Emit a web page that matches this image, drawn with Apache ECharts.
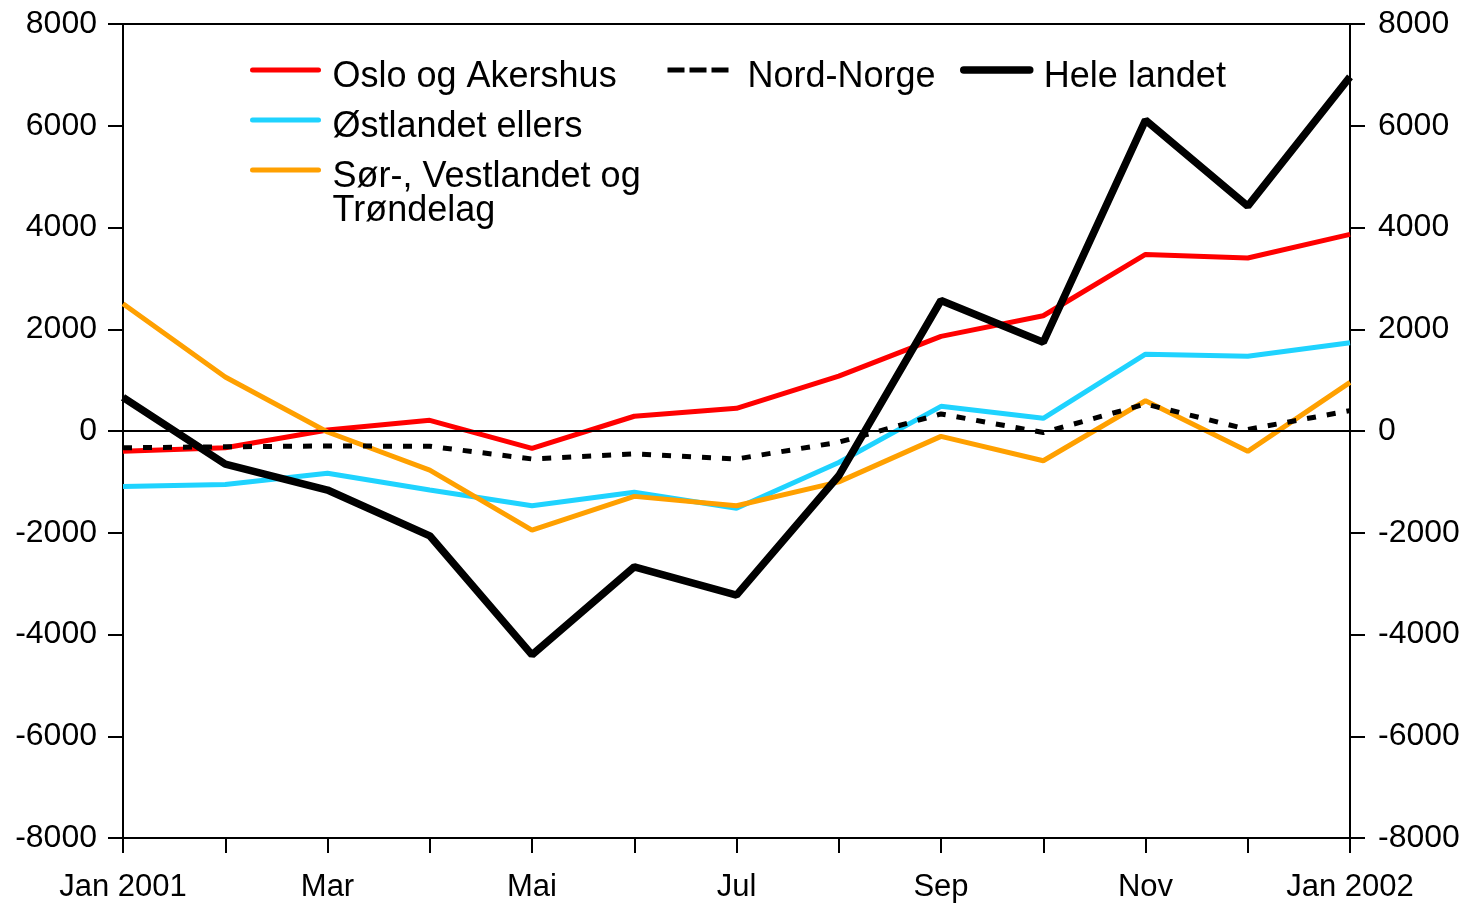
<!DOCTYPE html>
<html>
<head>
<meta charset="utf-8">
<script src="https://cdn.jsdelivr.net/npm/echarts@6/dist/echarts.min.js"></script>
<style>
  html, body { margin: 0; padding: 0; background: #fff; }
  #main { width: 1470px; height: 903px; }
</style>
</head>
<body>
<div id="main"></div>
<script>
(function() {
  var FONT = '"Liberation Sans", Arial, sans-serif';

  var months = ['Jan 2001', 'Feb', 'Mar', 'Apr', 'Mai', 'Jun', 'Jul', 'Aug', 'Sep', 'Okt', 'Nov', 'Des', 'Jan 2002'];
  var oslo = [-400, -330, 20, 210, -340, 290, 445, 1080, 1860, 2265, 3470, 3400, 3865];
  var ostlandet = [-1090, -1050, -830, -1160, -1470, -1205, -1520, -620, 485, 250, 1510, 1470, 1735];
  var sorVest = [2500, 1060, -20, -770, -1950, -1285, -1470, -1000, -105, -585, 595, -400, 955];
  var nordNorge = [-330, -310, -295, -300, -550, -450, -550, -220, 335, -30, 530, 30, 400];
  var heleLandet = [660, -650, -1160, -2060, -4400, -2670, -3225, -880, 2565, 1745, 6110, 4420, 6960];
  var yTicks = [-8000, 8000, 2000]; // min, max, interval

  var names = {
    oslo: 'Oslo og Akershus',
    ost: 'Østlandet ellers',
    sor: 'Sør-, Vestlandet og\nTrøndelag',
    nord: 'Nord-Norge',
    hele: 'Hele landet'
  };

  var chart = echarts.init(document.getElementById('main'));

  // legend text sits a bit lower than its line icon, so an empty first line pushes it down
  function legendAt(name, left, top, lineW, dash, padLeft, gapH) {
    return {
      data: [name],
      left: left,
      top: top,
      itemWidth: 66,
      itemHeight: 14,
      padding: 0,
      selectedMode: false,
      itemStyle: { opacity: 0 },
      lineStyle: { width: lineW, type: dash || 'solid', cap: dash ? 'butt' : 'round' },
      formatter: function(n) {
        return '{e| }\n' + n.split('\n').map(function(s) { return '{t|' + s + '}'; }).join('\n');
      },
      textStyle: {
        fontFamily: FONT,
        fontSize: 36,
        color: '#000',
        padding: [0, 0, 0, padLeft],
        rich: {
          e: { fontSize: 10, lineHeight: gapH, fontFamily: FONT },
          t: { fontSize: 36, lineHeight: 34, color: '#000', fontFamily: FONT }
        }
      }
    };
  }

  function valueAxis(pos, margin) {
    return {
      type: 'value',
      position: pos,
      min: yTicks[0],
      max: yTicks[1],
      interval: yTicks[2],
      axisLine: { show: true, lineStyle: { color: '#000', width: 2 } },
      axisTick: { show: true, inside: false, length: 15, lineStyle: { color: '#000', width: 2 } },
      axisLabel: {
        color: '#000', fontFamily: FONT, fontSize: 32, margin: margin,
        padding: [6, 0, 0, 0],
        formatter: function(v) { return String(v); }
      },
      splitLine: { show: false }
    };
  }

  function lineSeries(name, data, color, width, dash) {
    return {
      name: name,
      type: 'line',
      data: data,
      symbol: 'none',
      showSymbol: false,
      animation: false,
      color: color,
      lineStyle: { color: color, width: width, type: dash || 'solid', cap: 'butt' }
    };
  }

  var osloSeries = lineSeries(names.oslo, oslo, '#ff0000', 5);
  osloSeries.markLine = {
    silent: true,
    symbol: ['none', 'none'],
    label: { show: false },
    lineStyle: { color: '#000', width: 2, type: 'solid' },
    data: [{ yAxis: 0 }]
  };

  var option = {
    backgroundColor: '#fff',
    animation: false,
    grid: { left: 123, right: 120, top: 24, bottom: 65, containLabel: false },
    legend: [
      legendAt(names.oslo, 250, 48, 5, null, 9, 14),
      legendAt(names.ost, 250, 98, 5, null, 9, 14),
      legendAt(names.sor, 250, 131, 5, null, 9, 48),
      legendAt(names.nord, 665, 48, 5, [17, 5], 9, 14),
      legendAt(names.hele, 960, 48, 7.5, null, 9, 14)
    ],
    xAxis: [{
      type: 'category',
      data: months,
      boundaryGap: false,
      axisLine: { show: true, onZero: false, lineStyle: { color: '#000', width: 2 } },
      axisTick: { show: true, interval: 0, length: 15, lineStyle: { color: '#000', width: 2 } },
      axisLabel: { interval: 1, color: '#000', fontFamily: FONT, fontSize: 31, margin: 34 },
      splitLine: { show: false }
    }, {
      // top frame line only
      type: 'category',
      data: months,
      position: 'top',
      boundaryGap: false,
      axisLine: { show: true, onZero: false, lineStyle: { color: '#000', width: 2 } },
      axisTick: { show: false },
      axisLabel: { show: false },
      splitLine: { show: false }
    }],
    yAxis: [valueAxis('left', 26), valueAxis('right', 28)],
    series: [
      osloSeries,
      lineSeries(names.ost, ostlandet, '#1fd3ff', 5),
      lineSeries(names.sor, sorVest, '#ffa000', 5),
      lineSeries(names.nord, nordNorge, '#000', 5, [9, 11]),
      lineSeries(names.hele, heleLandet, '#000', 7.5)
    ]
  };

  chart.setOption(option);
})();
</script>
</body>
</html>
